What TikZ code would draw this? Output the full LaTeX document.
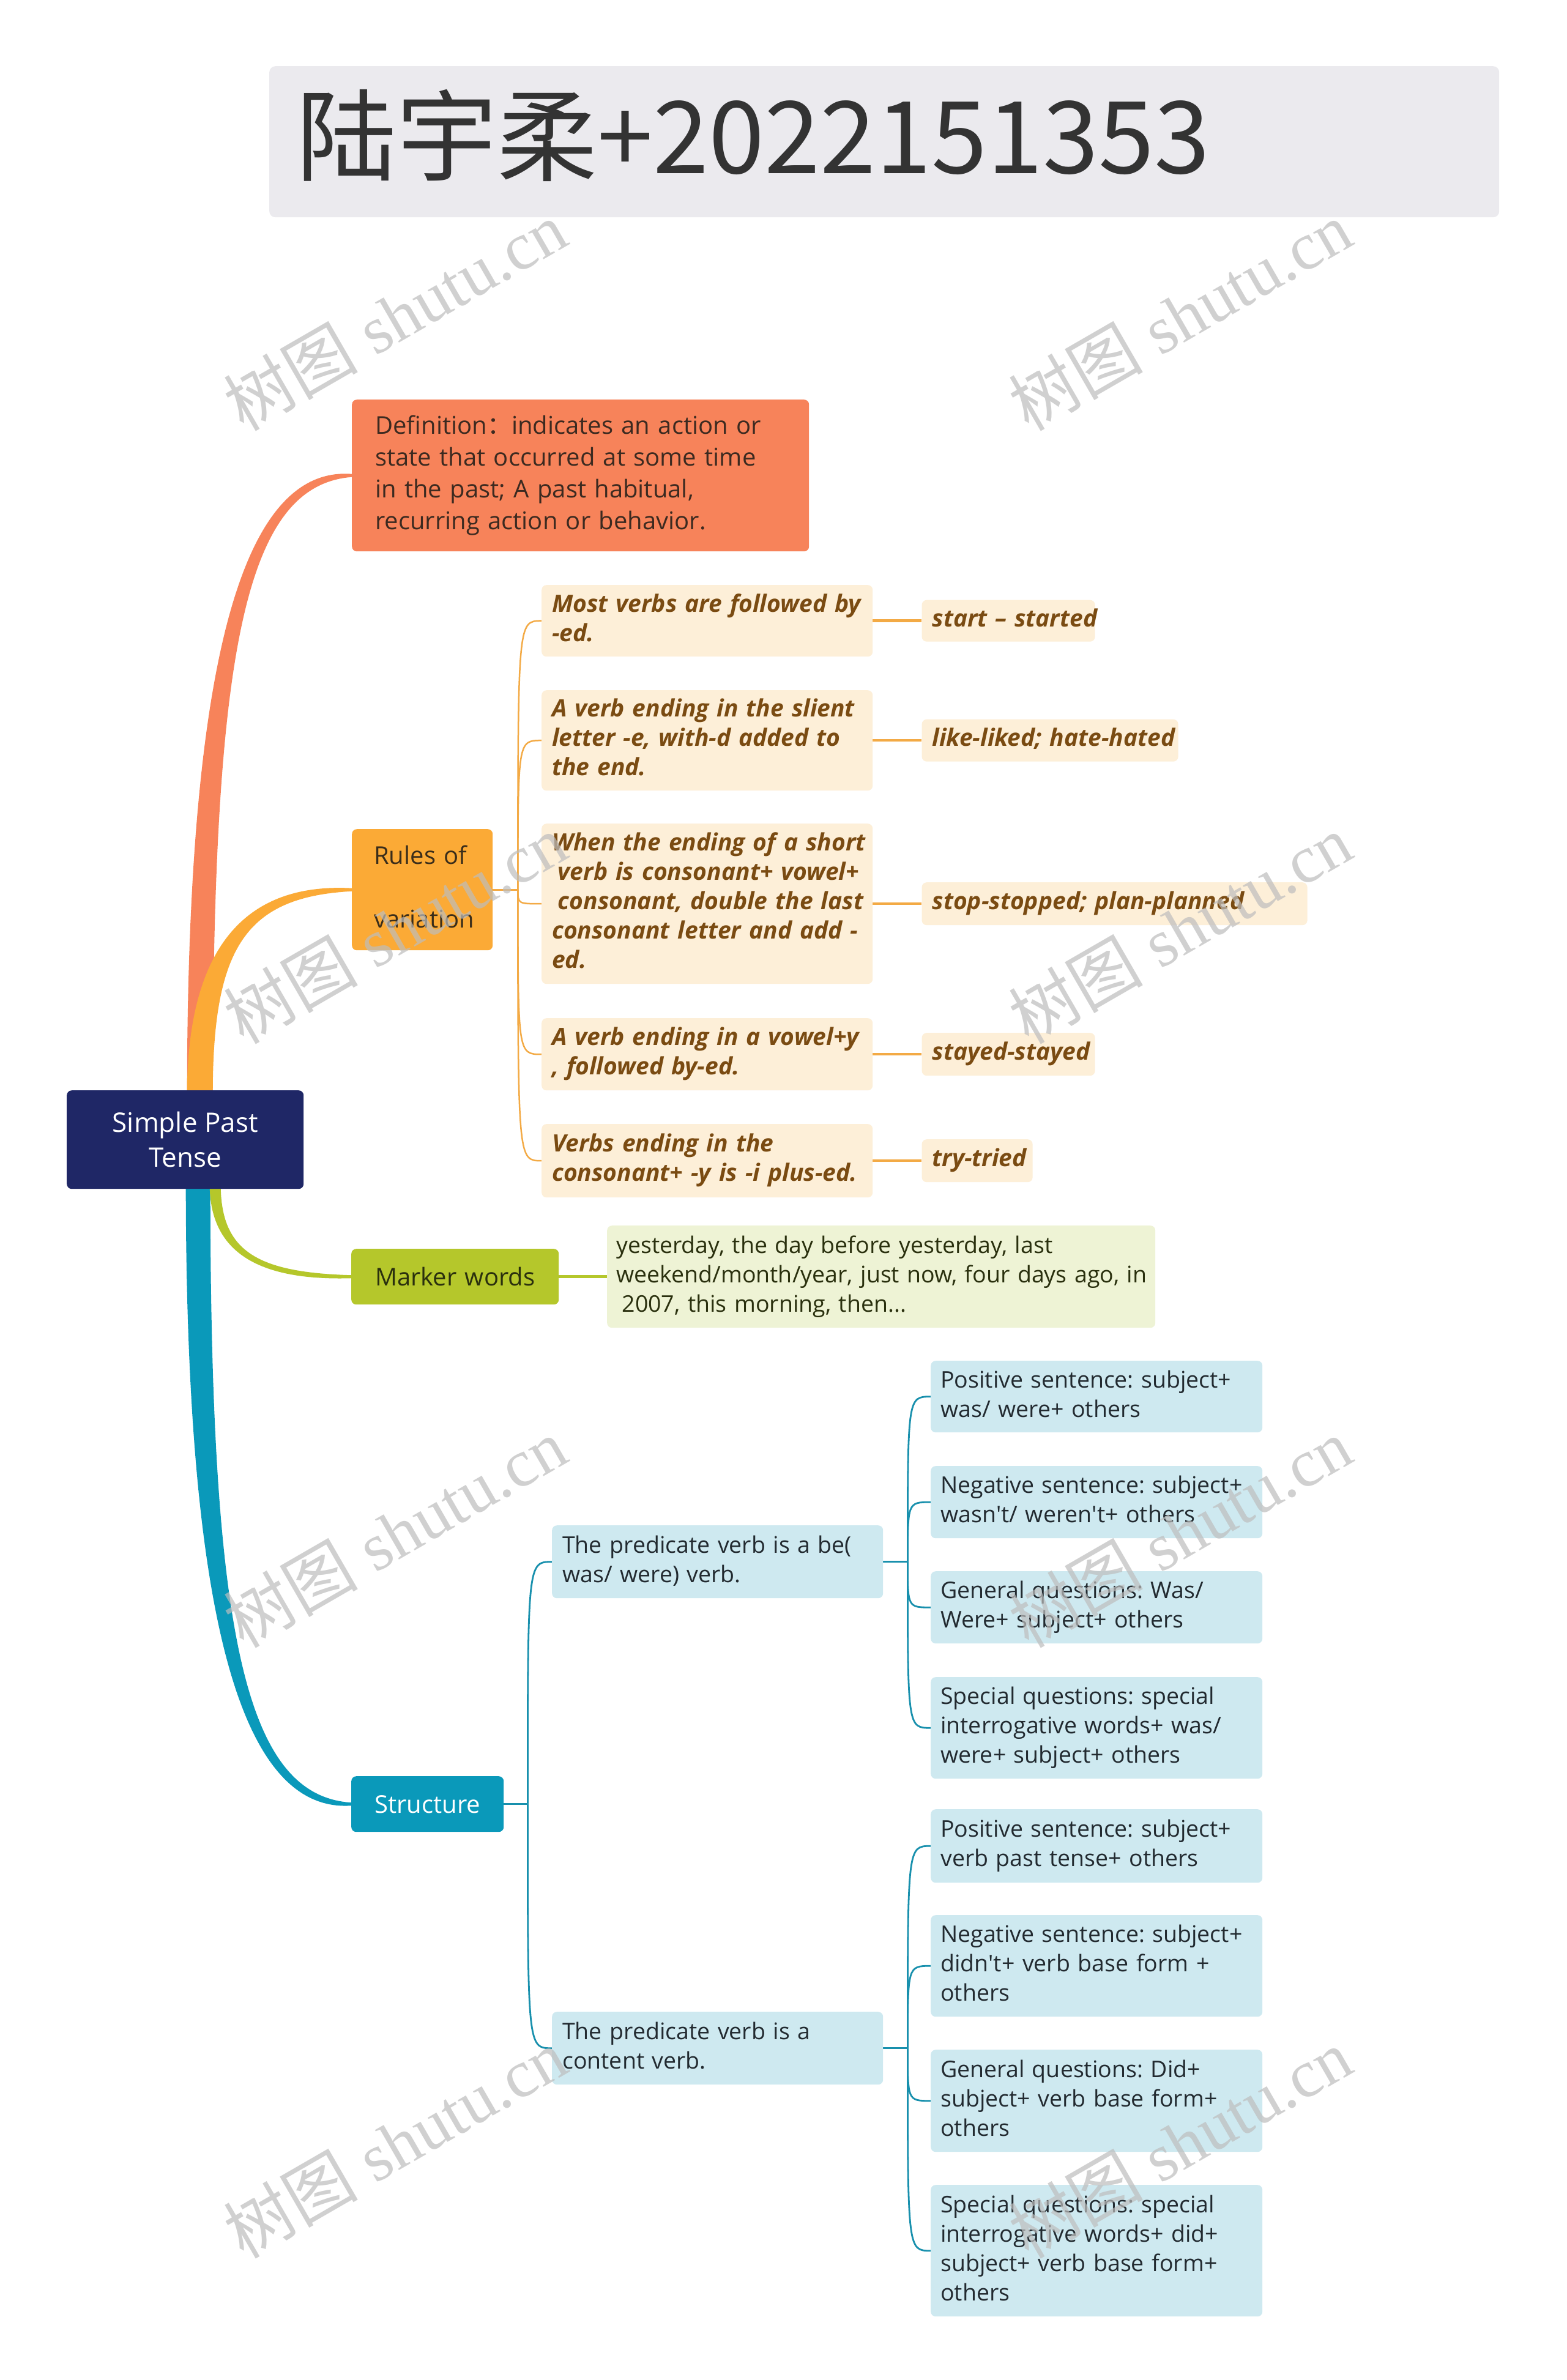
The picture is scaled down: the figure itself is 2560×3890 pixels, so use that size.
\documentclass[tikz,border=0pt]{standalone}
\usepackage{fontspec}
\setmainfont{Open Sans}
\newfontfamily\cjk{Noto Sans CJK SC}
\newfontfamily\wmserif{Liberation Serif}
\usetikzlibrary{calc}
\pgfdeclarelayer{bg}
\pgfdeclarelayer{paper}
\pgfsetlayers{paper,bg,main}
\frenchspacing
\definecolor{titlebg}{HTML}{EBEAEE}
\definecolor{titletxt}{HTML}{333333}
\definecolor{rootc}{HTML}{1F2766}
\definecolor{defc}{HTML}{F7835A}
\definecolor{deftxt}{HTML}{3C2A20}
\definecolor{rulec}{HTML}{FBAA36}
\definecolor{ruletopictxt}{HTML}{3A2D1A}
\definecolor{markc}{HTML}{B5C72B}
\definecolor{marktxt}{HTML}{2A300E}
\definecolor{strc}{HTML}{0A99BA}
\definecolor{rulechild}{HTML}{FDEFD8}
\definecolor{ruletxt}{HTML}{7A4B12}
\definecolor{rulelink}{HTML}{F3AA45}
\definecolor{marklight}{HTML}{EEF3D5}
\definecolor{strlight}{HTML}{CEE9F0}
\definecolor{strlink}{HTML}{1890AD}
\definecolor{darktxt}{HTML}{222A30}
\definecolor{wmgray}{HTML}{BDBDBD}
\newcommand\mlines[1]{\begin{tabular}{@{}l@{}}#1\end{tabular}}
% tapered branch: color, start, end, half width start, half width mid, half width end, sign
\newcommand\taper[7]{%
  \fill[#1] let \p1=#2, \p2=#3 in
    ({(\x1)-#4pt}, \y1) .. controls ({(\x1)-#4pt}, {(\y1)+0.72*((\y2)-(\y1))}) and ({(\x1)+0.3*((\x2)-(\x1))}, {(\y2)+(#7)*#5pt}) .. (\x2, {(\y2)+(#7)*#6pt})
    -- (\x2, {(\y2)-(#7)*#6pt}) .. controls ({(\x1)+0.3*((\x2)-(\x1))}, {(\y2)-(#7)*#5pt}) and ({(\x1)+#4pt}, {(\y1)+0.72*((\y2)-(\y1))}) .. ({(\x1)+#4pt}, \y1) -- cycle;}
\begin{document}
\begin{tikzpicture}[x=1pt,y=-1pt,
  boxbase/.style={anchor=north west, rounded corners=8pt, inner ysep=0pt, align=left},
  maintopic/.style={boxbase, inner xsep=38pt, font=\fontsize{40pt}{52pt}\selectfont},
  rulechildbox/.style={boxbase, fill=rulechild, text=ruletxt, inner xsep=17pt, font=\fontsize{39pt}{48pt}\selectfont\bfseries\itshape},
  strchildbox/.style={boxbase, fill=strlight, text=darktxt, inner xsep=16pt, text width=510pt, font=\fontsize{37.5pt}{48pt}\selectfont},
  strmidbox/.style={boxbase, fill=strlight, text=darktxt, inner xsep=17pt, text width=507pt, minimum height=119pt, font=\fontsize{37.5pt}{48pt}\selectfont},
  rulelinkthin/.style={draw=rulelink, line width=2.5pt},
  strlinkthin/.style={draw=strlink, line width=2.8pt},
  wmark/.style={rotate=30, text=wmgray, opacity=0.7, inner sep=0pt, font=\fontsize{110pt}{110pt}\selectfont}
]
\useasboundingbox (0,0) rectangle (2560,3890);
\begin{pgfonlayer}{paper}
\fill[white] (0,0) rectangle (2560,3890);
\end{pgfonlayer}

% title
\node[fill=titlebg, rounded corners=10pt, minimum width=2010pt, minimum height=247pt, anchor=north west, inner sep=0pt] (titlebox) at (440,108) {};
\node[anchor=base west, inner sep=0pt, text=titletxt, font=\cjk\fontsize{164pt}{170pt}\selectfont] (title) at (484,283) {陆宇柔+2022151353};

% root
\node[fill=rootc, rounded corners=8pt, minimum width=387pt, minimum height=161pt, anchor=north west, inner sep=0pt, text=white, align=center, font=\fontsize{44pt}{57pt}\selectfont] (root) at (109,1782) {Simple Past\\Tense};

% main topics
\node[maintopic, fill=defc, text=deftxt, text width=671pt, minimum height=248pt] (def) at (575,653) {\mlines{Definition{\cjk ：}indicates an action or\\state that occurred at some time\\in the past; A past habitual,\\recurring action or behavior.}};
\node[maintopic, fill=rulec, text=ruletopictxt, inner xsep=36pt, text width=158pt, minimum height=198pt] (rules) at (575,1355) {\mlines{Rules of\\ \\variation}};
\node[maintopic, fill=markc, text=marktxt, text width=263pt, minimum height=91pt, align=center] (mark) at (574,2041) {\mbox{Marker words}};
\node[maintopic, fill=strc, text=white, text width=173pt, minimum height=91pt, align=center] (str) at (574,2903) {\mbox{Structure}};

% rules children
\node[rulechildbox, text width=507pt, minimum height=117pt] (c1) at (885,956) {\mlines{Most verbs are followed by\\-ed.}};
\node[rulechildbox, text width=507pt, minimum height=164pt] (c2) at (885,1128) {\mlines{A verb ending in the slient\\letter -e, with-d added to\\the end.}};
\node[rulechildbox, text width=507pt, minimum height=262pt] (c3) at (885,1346) {\mlines{When the ending of a short\\\hspace*{0.25em}verb is consonant+ vowel+\\\hspace*{0.25em}consonant, double the last\\consonant letter and add -\\ed.}};
\node[rulechildbox, text width=507pt, minimum height=118pt] (c4) at (885,1664) {\mlines{A verb ending in a vowel+y\\, followed by-ed.}};
\node[rulechildbox, text width=507pt, minimum height=120pt] (c5) at (885,1837) {\mlines{Verbs ending in the\\consonant+ -y is -i plus-ed.}};

\node[rulechildbox, anchor=west, text width=249pt, minimum height=68pt] (g1) at ($(c1.east)+(80,0)$) {\mlines{start – started}};
\node[rulechildbox, anchor=west, text width=385pt, minimum height=69pt] (g2) at ($(c2.east)+(80,0)$) {\mlines{like-liked; hate-hated}};
\node[rulechildbox, anchor=west, text width=596pt, minimum height=70pt] (g3) at ($(c3.east)+(80,0)$) {\mlines{stop-stopped; plan-planned}};
\node[rulechildbox, anchor=west, text width=249pt, minimum height=70pt] (g4) at ($(c4.east)+(80,0)$) {\mlines{stayed-stayed}};
\node[rulechildbox, anchor=west, text width=147pt, minimum height=70pt] (g5) at ($(c5.east)+(80,0)$) {\mlines{try-tried}};

% marker text
\node[boxbase, fill=marklight, text=marktxt, inner xsep=15pt, text width=866pt, minimum height=167pt, font=\fontsize{37.5pt}{48pt}\selectfont] (mtxt) at (992,2003) {\mlines{yesterday, the day before yesterday, last\\weekend/month/year, just now, four days ago, in\\\hspace*{0.25em}2007, this morning, then...}};

% structure children
\node[strmidbox] (sa) at (902,2493) {\mlines{The predicate verb is a be(\\was/ were) verb.}};
\node[strmidbox] (sb) at (902,3288) {\mlines{The predicate verb is a\\content verb.}};

\node[strchildbox, minimum height=117pt] (a1) at (1521,2224) {\mlines{Positive sentence: subject+\\was/ were+ others}};
\node[strchildbox, minimum height=118pt] (a2) at (1521,2396) {\mlines{Negative sentence: subject+\\wasn\textquotesingle t/ weren\textquotesingle t+ others}};
\node[strchildbox, minimum height=118pt] (a3) at (1521,2568) {\mlines{General questions: Was/\\Were+ subject+ others}};
\node[strchildbox, minimum height=166pt] (a4) at (1521,2741) {\mlines{Special questions: special\\interrogative words+ was/\\were+ subject+ others}};

\node[strchildbox, minimum height=120pt] (b1) at (1521,2957) {\mlines{Positive sentence: subject+\\verb past tense+ others}};
\node[strchildbox, minimum height=166pt] (b2) at (1521,3130) {\mlines{Negative sentence: subject+\\didn\textquotesingle t+ verb base form +\\others}};
\node[strchildbox, minimum height=167pt] (b3) at (1521,3350) {\mlines{General questions: Did+\\subject+ verb base form+\\others}};
\node[strchildbox, minimum height=215pt] (b4) at (1521,3571) {\mlines{Special questions: special\\interrogative words+ did+\\subject+ verb base form+\\others}};

% connectors
\begin{pgfonlayer}{bg}
\taper{defc}{($(root.north)+(24,8)$)}{(def.west)}{21}{16}{2.5}{1}
\taper{rulec}{($(root.north)+(24,8)$)}{(rules.west)}{21}{12}{2.5}{1}
\taper{strc}{($(root.south)+(21,-8)$)}{(str.west)}{20}{14}{2.5}{-1}
\taper{markc}{($(root.south)+(49,-8)$)}{(mark.west)}{9}{7}{2.5}{-1}

\draw[draw=rulelink, line width=3pt] (rules.east) -- ++(41,0) coordinate (rh);
\foreach \c in {c1,c2,c3,c4,c5}
  \draw[rulelinkthin] (rh) .. controls (rh |- \c.west) and (rh |- \c.west) .. (\c.west);
\foreach \c/\g in {c1/g1,c2/g2,c3/g3,c4/g4,c5/g5}
  \draw[draw=rulelink, line width=4.5pt] (\c.east) -- (\g.west);

\draw[draw=markc, line width=5pt] (mark.east) -- (mtxt.west);

\draw[draw=strlink, line width=3.5pt] (str.east) -- ++(39,0) coordinate (sh);
\foreach \c in {sa,sb}
  \draw[strlinkthin] (sh) .. controls (sh |- \c.west) and (sh |- \c.west) .. (\c.west);
\draw[draw=strlink, line width=3.5pt] (sa.east) -- ++(40,0) coordinate (ah);
\foreach \c in {a1,a2,a3,a4}
  \draw[strlinkthin] (ah) .. controls (ah |- \c.west) and (ah |- \c.west) .. (\c.west);
\draw[draw=strlink, line width=3.5pt] (sb.east) -- ++(40,0) coordinate (bh);
\foreach \c in {b1,b2,b3,b4}
  \draw[strlinkthin] (bh) .. controls (bh |- \c.west) and (bh |- \c.west) .. (\c.west);
\end{pgfonlayer}

% watermarks
\node[wmark] (wm1) at (645,516) {{\cjk 树图} {\wmserif shutu.cn}};
\node[wmark] (wm2) at (1928,516) {{\cjk 树图} {\wmserif shutu.cn}};
\node[wmark] (wm3) at (645,1518) {{\cjk 树图} {\wmserif shutu.cn}};
\node[wmark] (wm4) at (1928,1518) {{\cjk 树图} {\wmserif shutu.cn}};
\node[wmark] (wm5) at (645,2505) {{\cjk 树图} {\wmserif shutu.cn}};
\node[wmark] (wm6) at (1928,2505) {{\cjk 树图} {\wmserif shutu.cn}};
\node[wmark] (wm7) at (645,3503) {{\cjk 树图} {\wmserif shutu.cn}};
\node[wmark] (wm8) at (1928,3503) {{\cjk 树图} {\wmserif shutu.cn}};
\end{tikzpicture}
\end{document}
